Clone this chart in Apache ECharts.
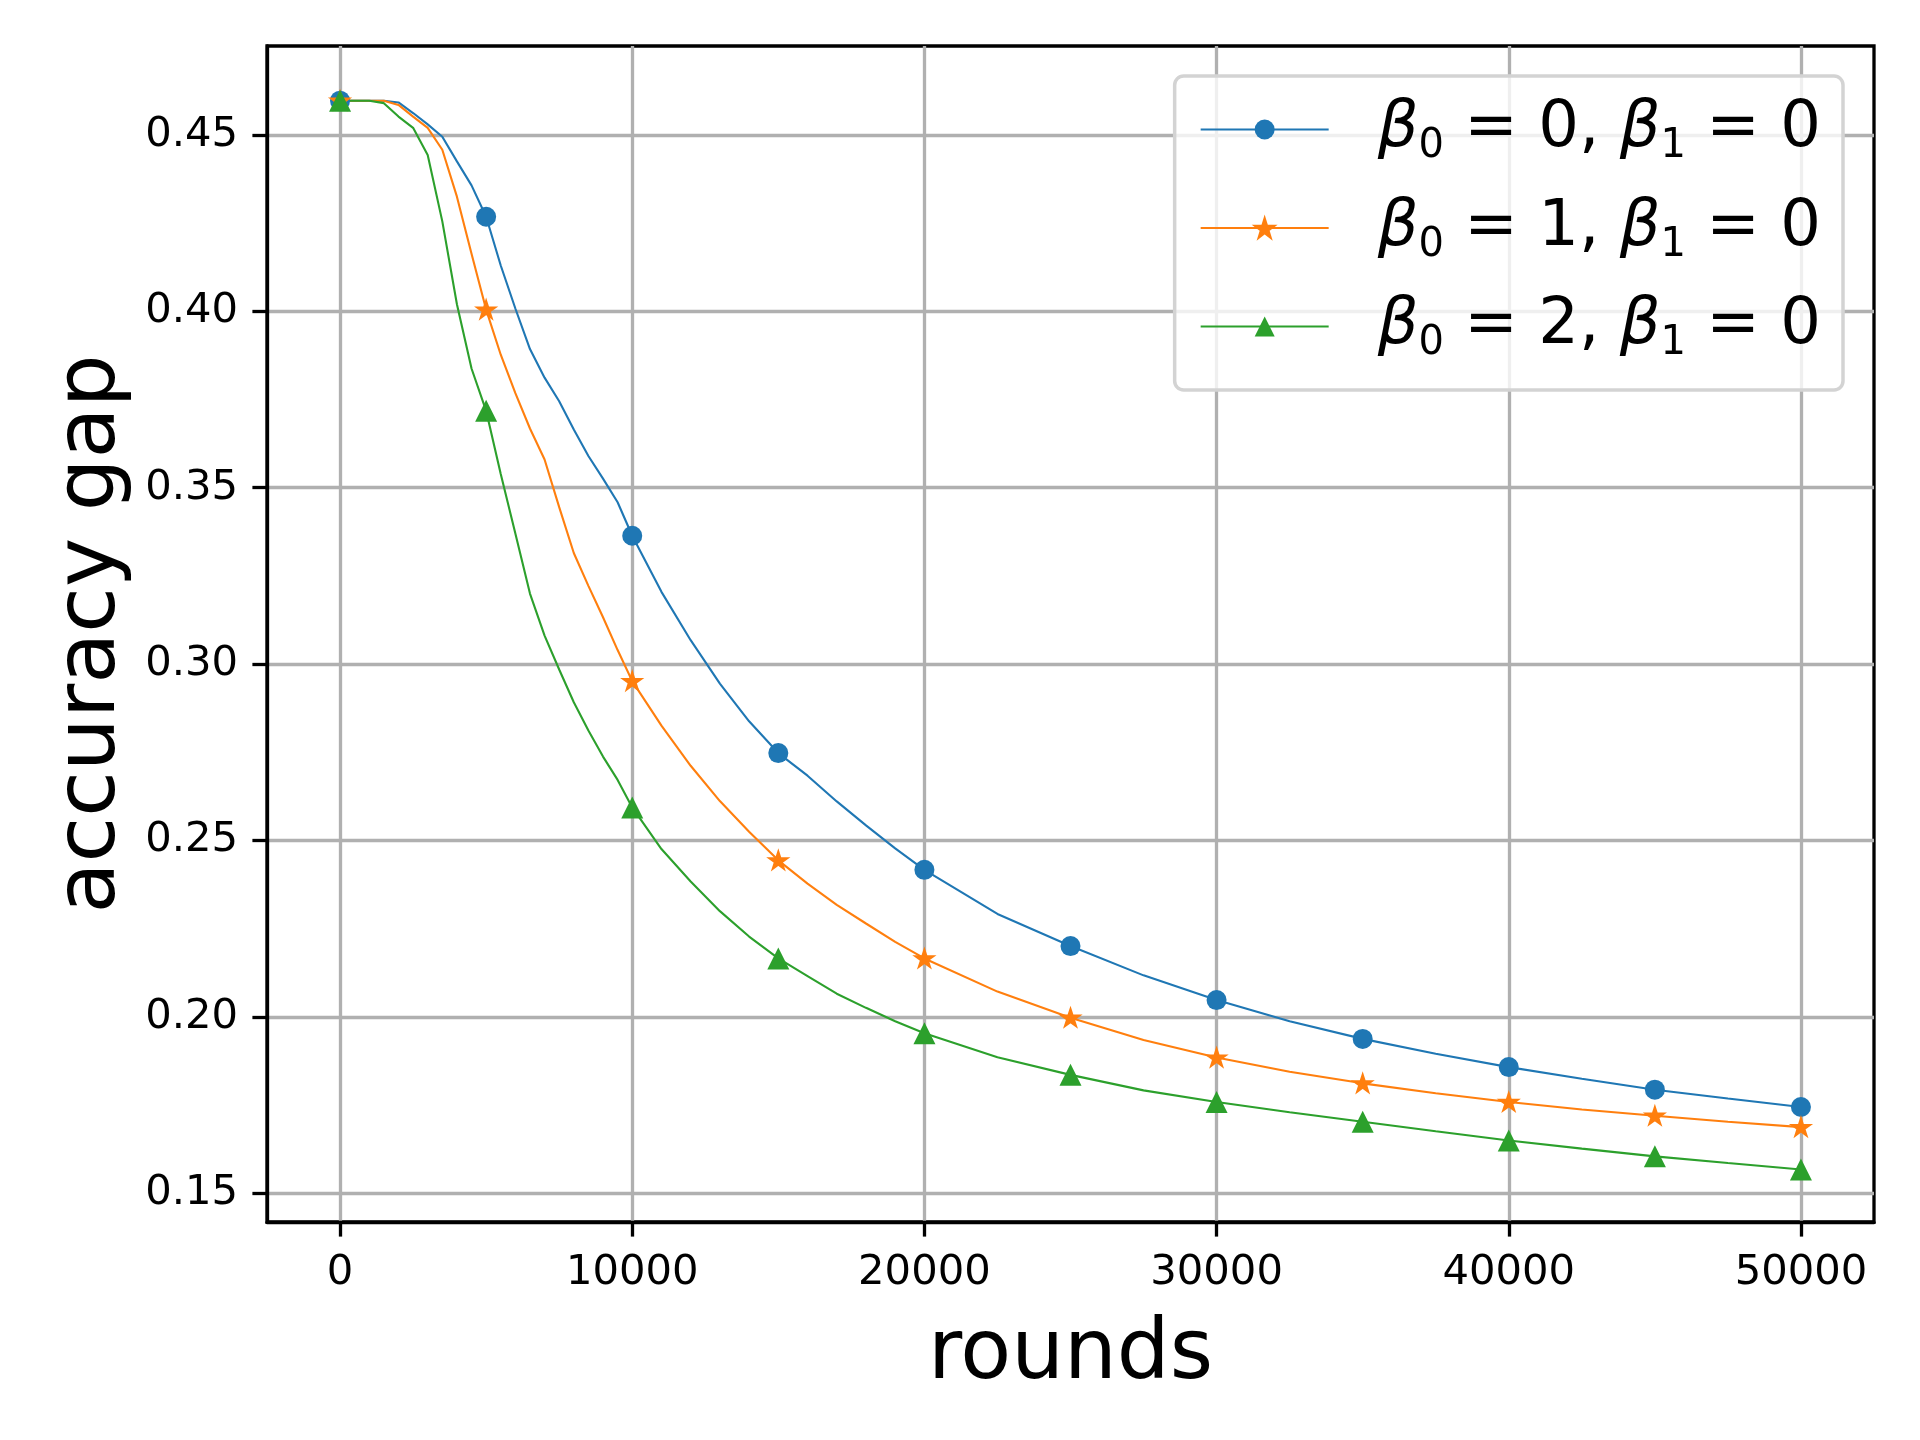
<!DOCTYPE html>
<html>
<head>
<meta charset="utf-8">
<script src="https://cdn.jsdelivr.net/npm/echarts@6/dist/echarts.min.js"></script>
<style>
  html, body { margin: 0; padding: 0; background: #fff; }
  #chart { width: 1920px; height: 1440px; }
</style>
</head>
<body>
<div id="chart"></div>
<script>
'use strict';

// rounds at which the curves were read
var rounds = [0, 500, 1000, 1500, 2000, 2500, 3000, 3500, 4000, 4500,
  5000, 5500, 6000, 6500, 7000, 7500, 8000, 8500, 9000, 9500,
  10000, 11000, 12000, 13000, 14000, 15000, 16000, 17000, 18000, 19000,
  20000, 22500, 25000, 27500, 30000, 32500, 35000, 37500, 40000, 42500,
  45000, 47500, 50000];

// accuracy gap, beta0 = 0
var gapBeta0 = [0.4597, 0.4597, 0.4597, 0.4597, 0.4592, 0.4562, 0.4530, 0.4495, 0.4425, 0.4357,
  0.4268, 0.4130, 0.4008, 0.3893, 0.3812, 0.3745, 0.3665, 0.3590, 0.3526, 0.3459,
  0.3364, 0.3205, 0.3068, 0.2945, 0.2838, 0.2748, 0.2684, 0.2611, 0.2543, 0.2478,
  0.2417, 0.2292, 0.2201, 0.2118, 0.2048, 0.1988, 0.1938, 0.1896, 0.1858, 0.1825,
  0.1794, 0.1769, 0.1745];

// accuracy gap, beta0 = 1
var gapBeta1 = [0.4597, 0.4597, 0.4597, 0.4597, 0.4585, 0.4552, 0.4520, 0.4458, 0.4325, 0.4163,
  0.4005, 0.3877, 0.3768, 0.3668, 0.3580, 0.3445, 0.3315, 0.3222, 0.3133, 0.3040,
  0.2952, 0.2826, 0.2712, 0.2612, 0.2525, 0.2444, 0.2378, 0.2318, 0.2265, 0.2213,
  0.2166, 0.2072, 0.1998, 0.1935, 0.1885, 0.1845, 0.1812, 0.1784, 0.1759, 0.1738,
  0.1720, 0.1703, 0.1688];

// accuracy gap, beta0 = 2
var gapBeta2 = [0.4597, 0.4597, 0.4597, 0.4590, 0.4552, 0.4520, 0.4443, 0.4255, 0.4020, 0.3838,
  0.3718, 0.3539, 0.3370, 0.3200, 0.3081, 0.2985, 0.2892, 0.2812, 0.2738, 0.2672,
  0.2594, 0.2476, 0.2384, 0.2300, 0.2228, 0.2166, 0.2116, 0.2066, 0.2026, 0.1988,
  0.1954, 0.1886, 0.1836, 0.1792, 0.1759, 0.1730, 0.1703, 0.1676, 0.1650, 0.1627,
  0.1605, 0.1586, 0.1568];

var beta0Values = [0, 1, 2];
var beta1Values = [0, 0, 0];
var xTicks = [0, 10000, 20000, 30000, 40000, 50000];
var yTicks = [0.15, 0.20, 0.25, 0.30, 0.35, 0.40, 0.45];
var markEvery = 5000;

var FONT = 'DejaVu Sans';
var STAR = 'path://M50 0 L61.23 34.55 L97.55 34.55 L68.17 55.9 L79.39 90.45 L50 69.1 L20.61 90.45 L31.83 55.9 L2.45 34.55 L38.77 34.55 Z';

function pairs(ys) {
  return rounds.map(function (r, i) { return [r, ys[i]]; });
}

function seriesName(i) {
  return '\u03b20 = ' + beta0Values[i] + ', \u03b21 = ' + beta1Values[i];
}

function makeLine(i, ys, color, symbol, size, edge) {
  return {
    name: seriesName(i),
    type: 'line',
    data: pairs(ys),
    symbol: symbol,
    symbolKeepAspect: true,
    symbolSize: function (val) { return val[0] % markEvery === 0 ? size : 0; },
    showAllSymbol: true,
    color: color,
    itemStyle: { color: color, borderColor: color, borderWidth: edge },
    lineStyle: { color: color, width: 2.1 },
    emphasis: { disabled: true },
    z: 3
  };
}

var myChart = echarts.init(document.getElementById('chart'), null, { renderer: 'canvas' });

var option = {
  animation: false,
  backgroundColor: '#ffffff',
  textStyle: { fontFamily: FONT },
  grid: {
    left: 267, right: 46, top: 46, bottom: 218,
    show: true, borderColor: '#000', borderWidth: 3.3, backgroundColor: 'transparent'
  },
  legend: {
    orient: 'vertical',
    right: 77,
    top: 76,
    padding: [16, 22, 26, 25],
    itemGap: 23.5,
    itemWidth: 128,
    itemHeight: 25,
    backgroundColor: 'rgba(255,255,255,0.8)',
    borderColor: '#d3d3d3',
    borderWidth: 3.5,
    borderRadius: 9,
    selectedMode: false,
    formatter: function (name) {
      var idx = 0;
      for (var i = 0; i < beta0Values.length; i++) { if (seriesName(i) === name) idx = i; }
      return '{b0|\u03b2}{s|0}{n| = ' + beta0Values[idx] + ', }{b|\u03b2}{s|1}{n| = ' + beta1Values[idx] + '}';
    },
    textStyle: {
      fontFamily: FONT,
      fontSize: 64,
      color: '#000',
      rich: {
        b0: { fontFamily: FONT, fontStyle: 'italic', fontSize: 64, lineHeight: 72, padding: [0, 0, 0, 44] },
        b: { fontFamily: FONT, fontStyle: 'italic', fontSize: 64, lineHeight: 72 },
        s: { fontFamily: FONT, fontSize: 40, lineHeight: 72, padding: [35, 0, 0, 0] },
        n: { fontFamily: FONT, fontSize: 64, lineHeight: 72 }
      }
    }
  },
  xAxis: {
    type: 'value',
    min: -2500,
    max: 52500,
    name: 'rounds',
    nameLocation: 'middle',
    nameGap: 93,
    nameTextStyle: { fontFamily: FONT, fontSize: 83.3, color: '#000' },
    axisLine: { show: true, onZero: false, lineStyle: { color: '#000', width: 3.3 } },
    axisTick: { show: true, length: 14.6, customValues: xTicks, lineStyle: { color: '#000', width: 3.3 } },
    axisLabel: {
      customValues: xTicks, margin: 30, fontFamily: FONT, fontSize: 41.7, color: '#000',
      formatter: function (v) { return String(v); }
    },
    splitLine: { show: true, lineStyle: { color: '#b0b0b0', width: 3.3 } }
  },
  yAxis: {
    type: 'value',
    min: 0.1419,
    max: 0.4752,
    name: 'accuracy gap',
    nameLocation: 'middle',
    nameRotate: 90,
    nameGap: 130,
    nameTextStyle: { fontFamily: FONT, fontSize: 83.3, color: '#000' },
    axisLine: { show: true, onZero: false, lineStyle: { color: '#000', width: 3.3 } },
    axisTick: { show: true, length: 14.6, customValues: yTicks, lineStyle: { color: '#000', width: 3.3 } },
    axisLabel: {
      customValues: yTicks, margin: 29, fontFamily: FONT, fontSize: 41.7, color: '#000',
      formatter: function (v) { return v.toFixed(2); }
    },
    splitLine: { show: true, lineStyle: { color: '#b0b0b0', width: 3.3 } }
  },
  series: [
    makeLine(0, gapBeta0, '#1f77b4', 'circle', 20, 0),
    makeLine(1, gapBeta1, '#ff7f0e', STAR, 15, 3),
    makeLine(2, gapBeta2, '#2ca02c', 'triangle', 22, 0)
  ]
};

myChart.setOption(option);
</script>
</body>
</html>
